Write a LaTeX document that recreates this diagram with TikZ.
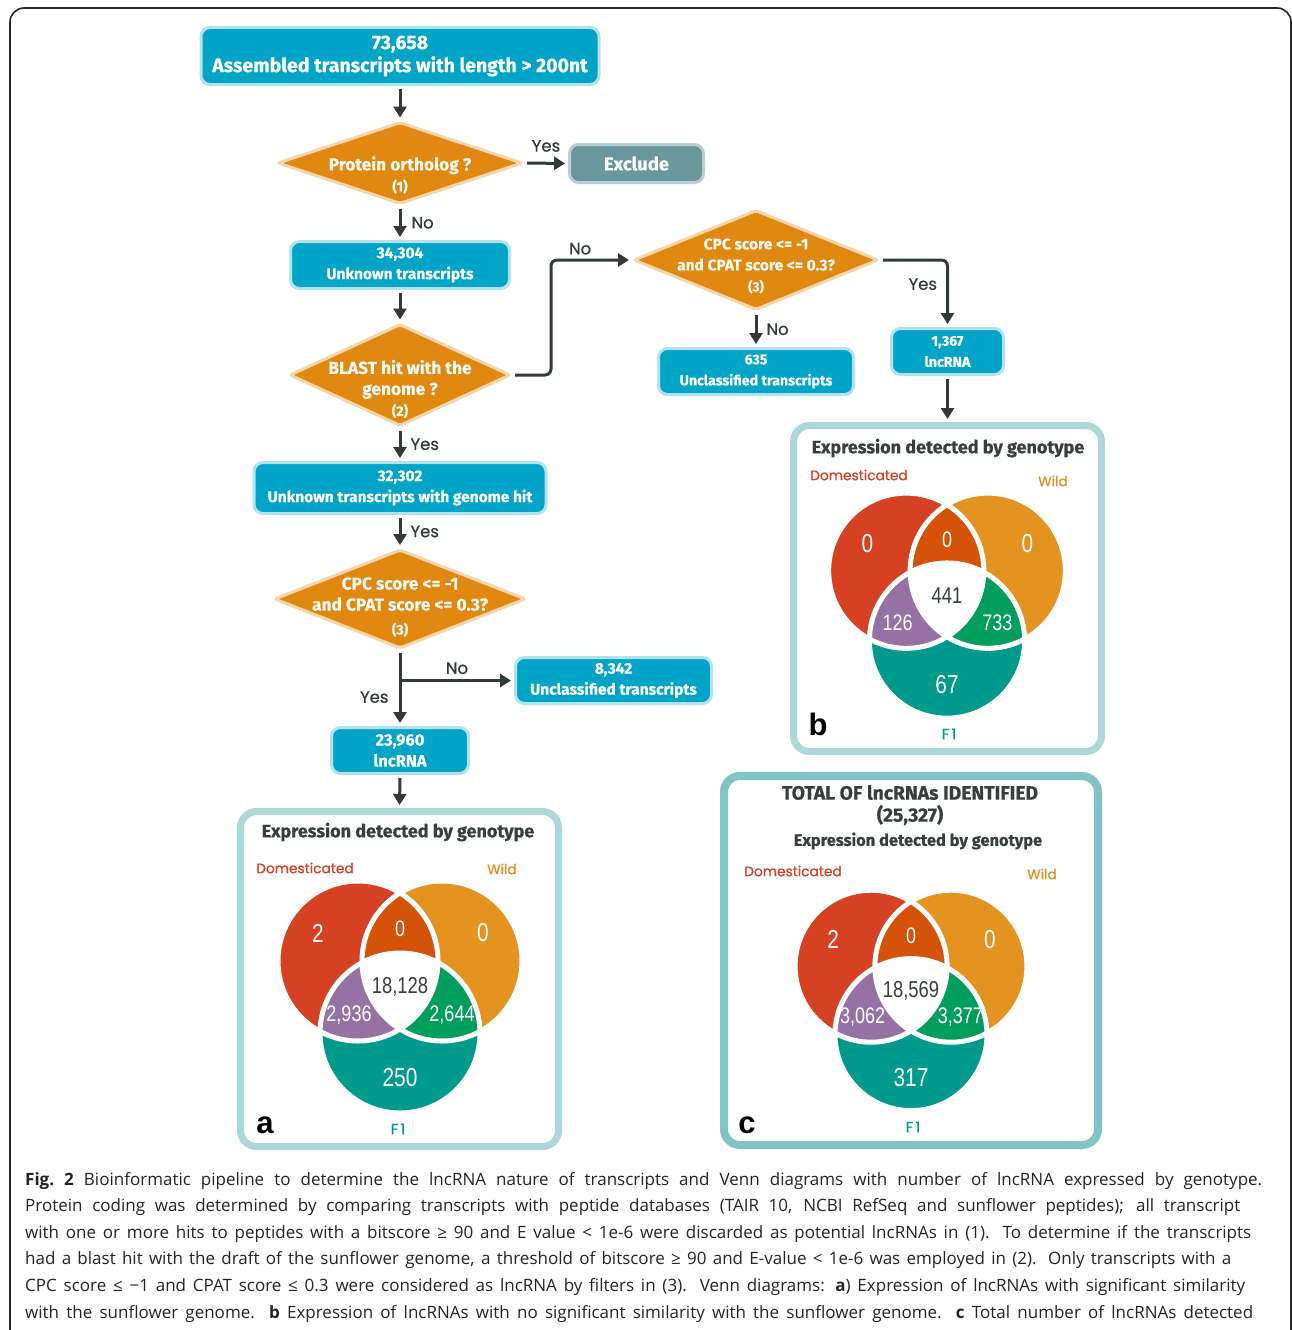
\documentclass[tikz,border=0pt]{standalone}
\usepackage{fontspec}
\setmainfont{Open Sans}
\newfontfamily\boxfont{Fira Sans}[BoldFeatures={FakeBold=0.5}]
\newfontfamily\labfont{Poppins}[FakeBold=0.7]
\newfontfamily\numfont{Liberation Sans}[FakeStretch=0.8]
\newfontfamily\letfont{Liberation Sans}
\usetikzlibrary{shapes.geometric,arrows.meta,positioning}

\definecolor{boxcyan}{RGB}{0,164,198}
\definecolor{boxpale}{RGB}{178,226,236}
\definecolor{decorange}{RGB}{224,136,16}
\definecolor{decpale}{RGB}{245,214,172}
\definecolor{exclgray}{RGB}{106,150,158}
\definecolor{exclpale}{RGB}{184,208,212}
\definecolor{arrowgray}{RGB}{50,58,56}
\definecolor{titlegray}{RGB}{56,62,60}
\definecolor{framegray}{RGB}{40,40,40}
\definecolor{vennred}{RGB}{214,65,36}
\definecolor{vennorange}{RGB}{229,147,32}
\definecolor{venndk}{RGB}{212,83,8}
\definecolor{vennpurple}{RGB}{150,113,164}
\definecolor{venngreen}{RGB}{0,158,92}
\definecolor{vennteal}{RGB}{0,154,140}
\definecolor{panelpale}{RGB}{172,216,218}
\definecolor{panelteal}{RGB}{128,196,198}
\definecolor{domred}{RGB}{212,64,40}
\definecolor{wildorange}{RGB}{226,142,30}
\definecolor{fteal}{RGB}{0,150,138}
\definecolor{captext}{RGB}{35,35,35}

\newcommand\fs[2]{\fontsize{#1}{#2}\selectfont}

\tikzset{
  infobox/.style={rectangle, rounded corners=9pt, fill=boxcyan, draw=boxpale, line width=3pt,
    text=white, font=\boxfont\bfseries\fs{15.5}{21}, align=center, inner sep=0pt},
  exclbox/.style={rectangle, rounded corners=9pt, fill=exclgray, draw=exclpale, line width=3pt,
    text=white, font=\boxfont\bfseries\fs{18.5}{22}, inner sep=0pt},
  decision/.style={diamond, fill=decorange, draw=decpale, line width=3pt, rounded corners=3pt, inner sep=0pt},
  dectext/.style={text=white!95!decorange, font=\boxfont\bfseries\fs{17.3}{21}, align=center, inner sep=0pt},
  flow/.style={draw=arrowgray, line width=3pt, -{Triangle[length=11pt,width=13pt]},
    shorten <=3pt, shorten >=3pt},
  answer/.style={font=\labfont\fs{16.5}{20}, text=arrowgray, inner sep=2pt},
  panel/.style={rectangle, draw=panelpale, line width=7pt, rounded corners=16pt, fill=white, inner sep=0pt},
  paneltitle/.style={font=\boxfont\bfseries\fs{18}{22}, text=titlegray, align=center},
  domlabel/.style={font=\labfont\fs{13.8}{17}, text=domred},
  wildlabel/.style={font=\labfont\fs{13.8}{17}, text=wildorange},
  fonelabel/.style={font=\labfont\fs{15}{17}, text=fteal},
  letter/.style={font=\letfont\bfseries\fs{31}{31}, text=black},
  vnum/.style={font=\numfont\fs{26}{26}, text=white, inner sep=0pt},
  vsmall/.style={font=\numfont\fs{22.5}{22}, text=white, inner sep=0pt},
  vmid/.style={font=\numfont\fs{23}{23}, text=titlegray, inner sep=0pt},
  capline/.style={anchor=base west, inner sep=0pt, font=\fs{17}{20}, text=captext}
}

% three-set Venn: name, scope options, Dom, Dom&Wild, Wild, all, Dom&F1, Wild&F1, F1
\newcommand\vennplot[9]{%
  \begin{scope}[#2]
    \coordinate (#1-dom) at (-42,-24);
    \coordinate (#1-wild) at (42,-24);
    \coordinate (#1-fone) at (0,48);
    \fill[vennred] (#1-dom) circle[radius=80];
    \fill[vennorange] (#1-wild) circle[radius=80];
    \fill[vennteal] (#1-fone) circle[radius=80];
    \begin{scope}
      \clip (#1-dom) circle[radius=80];
      \fill[venndk] (#1-wild) circle[radius=80];
      \fill[vennpurple] (#1-fone) circle[radius=80];
    \end{scope}
    \begin{scope}
      \clip (#1-wild) circle[radius=80];
      \fill[venngreen] (#1-fone) circle[radius=80];
      \clip (#1-dom) circle[radius=80];
      \fill[white] (#1-fone) circle[radius=80];
    \end{scope}
    \draw[white, line width=5pt] (#1-dom) circle[radius=80] (#1-wild) circle[radius=80]
      (#1-fone) circle[radius=80];
    \node[vnum] (#1-n1) at (-82,-52) {#3};
    \node[vsmall] (#1-n2) at (0,-56) {#4};
    \node[vnum] (#1-n3) at (83,-52) {#5};
    \node[vmid] (#1-n4) at (0,2) {#6};
    \node[vsmall] (#1-n5) at (-51,30) {#7};
    \node[vsmall] (#1-n6) at (52,30) {#8};
    \node[vnum] (#1-n7) at (0,93) {#9};
  \end{scope}}

\begin{document}
\begin{tikzpicture}[x=1pt,y=-1pt]
  \useasboundingbox (0,0) rectangle (1292,1330);
  \clip (0,0) rectangle (1292,1330);
  \draw[framegray, line width=1.6pt, rounded corners=14pt] (10,8) rectangle (1291,1390);

  % main column
  \node[infobox, minimum width=398, minimum height=57, font=\boxfont\bfseries\fs{19.5}{23}] (start) at (400,56)
    {73,658\\Assembled transcripts with length > 200nt};
  \node[decision, minimum width=245, minimum height=82] (q1) at (400,163) {};
  \node[dectext] (q1t) at (400,175) {Protein ortholog ?\\\fs{14}{21}(1)};
  \node[exclbox, minimum width=134, minimum height=38] (excl) at (636.5,163.5) {Exclude};
  \node[infobox, minimum width=219, minimum height=47] (unk) at (400,265) {34,304\\Unknown transcripts};
  \node[decision, minimum width=221, minimum height=102] (q2) at (400,375) {};
  \node[dectext] (q2t) at (400,389) {BLAST hit with the\\genome ?\\\fs{14}{21}(2)};
  \node[infobox, minimum width=292, minimum height=51] (hit) at (400,488) {32,302\\Unknown transcripts with genome hit};
  \node[decision, minimum width=252, minimum height=99] (q4) at (400,599) {};
  \node[dectext] (q4t) at (400,607) {CPC score <= -1\\and CPAT score <= 0.3?\\[3pt]\fs{14}{21}(3)};
  \node[infobox, minimum width=196, minimum height=46] (uncl) at (613.5,680.5) {8,342\\Unclassified transcripts};
  \node[infobox, minimum width=137, minimum height=46, font=\boxfont\bfseries\fs{16.5}{21}] (lnca) at (400,750.5) {23,960\\lncRNA};

  % right column
  \node[decision, minimum width=245, minimum height=100] (q3) at (756,260) {};
  \node[dectext, font=\boxfont\bfseries\fs{15.5}{21}] (q3t) at (756,266) {CPC score <= -1\\and CPAT score <= 0.3?\\\fs{13.5}{21}(3)};
  \node[infobox, minimum width=195, minimum height=46, font=\boxfont\bfseries\fs{14.2}{21}] (unclb) at (756,371.5) {635\\Unclassified transcripts};
  \node[infobox, minimum width=112, minimum height=46, font=\boxfont\bfseries\fs{14.2}{21}] (lncb) at (947.5,351.5) {1,367\\lncRNA};

  % panels
  \node[panel, minimum width=318, minimum height=335] (pa) at (399.5,979) {};
  \node[panel, minimum width=308, minimum height=326] (pb) at (947.5,588.5) {};
  \node[panel, draw=panelteal, line width=8pt, minimum width=374, minimum height=369] (pc) at (911,960.5) {};

  % connectors
  \draw[flow] (start.south) -- (q1.north);
  \draw[flow] (q1.east) -- (excl.west) node[answer, midway, above=8pt] (yes1) {Yes};
  \draw[flow] (q1.south) -- (unk.north) node[answer, midway, right=8pt] (no1) {No};
  \draw[flow] (unk.south) -- (q2.north);
  \draw[flow, rounded corners=6pt] (q2.east) -- ++(39,0) |- node[answer, pos=0.68, above=2pt] (no2) {No} (q3.west);
  \draw[flow, rounded corners=6pt] (q3.east) -| node[answer, pos=0.68, left=7pt] (yes3) {Yes} (lncb.north);
  \draw[flow] (q3.south) -- (unclb.north) node[answer, midway, right=7pt] (no3) {No};
  \draw[flow] (lncb.south) -- (pb.north);
  \draw[flow] (q2.south) -- (hit.north) node[answer, midway, right=7pt] (yes2) {Yes};
  \draw[flow] (hit.south) -- (q4.north) node[answer, midway, right=7pt] (yes4) {Yes};
  \draw[flow] (q4.south) -- (lnca.north) node[answer, pos=0.62, left=8pt] (yes5) {Yes};
  \draw[flow, shorten <=0pt] (q4.south |- uncl.west) -- (uncl.west) node[answer, midway, above=3pt] (no4) {No};
  \draw[flow] (lnca.south) -- (pa.north);

  % panel a
  \node[paneltitle] (pa-title) at (398,832) {Expression detected by genotype};
  \node[domlabel] (pa-dom) at (305,868) {Domesticated};
  \node[wildlabel] (pa-wild) at (502,869) {Wild};
  \vennplot{va}{shift={(400,985)}}{2}{0}{0}{18,128}{2,936}{2,644}{250}
  \node[fonelabel] (pa-f1) at (398,1129) {F\kern2pt1};
  \node[letter] (pa-let) at (265,1125) {a};

  % panel b
  \node[paneltitle] (pb-title) at (948,448) {Expression detected by genotype};
  \node[domlabel] (pb-dom) at (859,475) {Domesticated};
  \node[wildlabel] (pb-wild) at (1053,481) {Wild};
  \vennplot{vb}{shift={(947,594)},scale=0.97}{0}{0}{0}{441}{126}{733}{67}
  \node[fonelabel] (pb-f1) at (949,734) {F\kern2pt1};
  \node[letter] (pb-let) at (818,724) {b};

  % panel c
  \node[paneltitle, font=\boxfont\bfseries\fs{19.3}{22}] (pc-title) at (910,805) {TOTAL OF lncRNAs IDENTIFIED\\(25,327)};
  \node[paneltitle, font=\boxfont\bfseries\fs{16.4}{20}] (pc-sub) at (918,841) {Expression detected by genotype};
  \node[domlabel] (pc-dom) at (793,871) {Domesticated};
  \node[wildlabel] (pc-wild) at (1042,874) {Wild};
  \vennplot{vc}{shift={(911,989)},scale=0.95}{2}{0}{0}{18,569}{3,062}{3,377}{317}
  \node[fonelabel] (pc-f1) at (913,1127) {F\kern2pt1};
  \node[letter] (pc-let) at (747,1125) {c};

  % caption
  \node[capline] (cap1) at (25,1185) {\makebox[1237pt][s]{\textbf{Fig.~2} Bioinformatic pipeline to determine the lncRNA nature of transcripts and Venn diagrams with number of lncRNA expressed by genotype.}};
  \node[capline] (cap2) at (25,1211.6) {\makebox[1215pt][s]{Protein coding was determined by comparing transcripts with peptide databases (TAIR 10, NCBI RefSeq and sunflower peptides); all transcript}};
  \node[capline] (cap3) at (25,1238.2) {\makebox[1226pt][s]{with one or more hits to peptides with a bitscore ≥ 90 and E value < 1e-6 were discarded as potential lncRNAs in (1). To determine if the transcripts}};
  \node[capline] (cap4) at (25,1264.8) {\makebox[1206pt][s]{had a blast hit with the draft of the sunflower genome, a threshold of bitscore ≥ 90 and E-value < 1e-6 was employed in (2). Only transcripts with a}};
  \node[capline] (cap5) at (25,1291.4) {\makebox[1220pt][s]{CPC score ≤ −1 and CPAT score ≤ 0.3 were considered as lncRNA by filters in (3). Venn diagrams: \textbf{a}) Expression of lncRNAs with significant similarity}};
  \node[capline] (cap6) at (25,1318) {\makebox[1228pt][s]{with the sunflower genome. \textbf{b} Expression of lncRNAs with no significant similarity with the sunflower genome. \textbf{c} Total number of lncRNAs detected}};
\end{tikzpicture}
\end{document}
